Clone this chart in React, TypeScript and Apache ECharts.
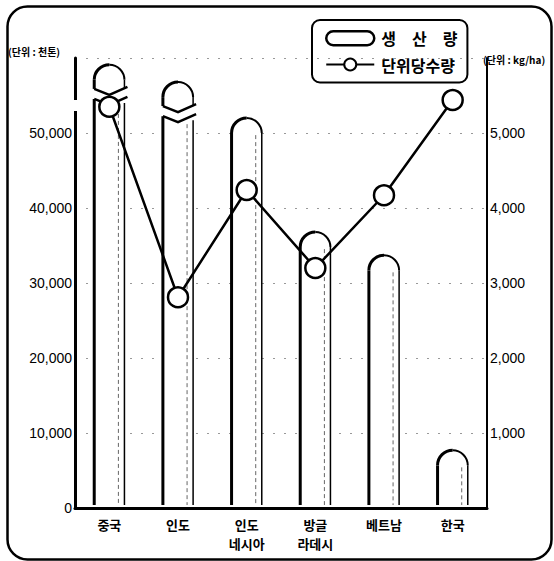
import React, { useEffect, useRef } from "react";
import * as echarts from "echarts";

const categories = ["중국", "인도", "인도\n네시아", "방글\n라데시", "베트남", "한국"];
// production (천톤) as drawn on the chart (China and India are truncated bars)
const production = [59100, 56800, 52000, 36800, 33700, 7700];
const truncated = [true, true, false, false, false, false];
// yield per area (kg/ha)
const yieldPerHa = [5350, 2810, 4240, 3200, 4170, 5440];
const leftTicks = { min: 0, max: 60000, interval: 10000 };
const rightTicks = { min: 0, max: 6000, interval: 1000 };

const fmt = (v: number) => v.toLocaleString("en-US");

export default function App() {
  const ref = useRef<HTMLDivElement>(null);
  useEffect(() => {
    if (!ref.current) return;
    const chart = echarts.init(ref.current, undefined, { renderer: "svg" });
    const font = "'Liberation Sans', Arial, 'Noto Sans CJK KR', sans-serif";
    const krFont = "'Noto Sans CJK KR', sans-serif";

    const renderItem = (params: any, api: any) => {
      const idx = api.value(0);
      const val = api.value(1);
      const top = api.coord([idx, val]);
      const base = api.coord([idx, 0]);
      const band = api.size([1, 0])[0];
      const w = band * 0.44;
      const r = w / 2;
      const cx = top[0];
      const L = cx - r;
      const R = cx + r;
      const capY = top[1] + r;
      const bottom = base[1] - 3;
      const children: any[] = [];
      children.push({
        type: "rect",
        shape: { x: L, y: top[1], width: w, height: bottom - top[1], r: [r, r, 0, 0] },
        style: { fill: "#fff", stroke: null },
      });
      children.push({
        type: "arc",
        shape: { cx, cy: capY, r, startAngle: Math.PI, endAngle: Math.PI * 1.5 },
        style: { stroke: "#000", lineWidth: 3, fill: null },
      });
      children.push({
        type: "arc",
        shape: { cx, cy: capY, r, startAngle: Math.PI * 1.5, endAngle: Math.PI * 2 },
        style: { stroke: "#000", lineWidth: 2, fill: null },
      });
      const dashX = L + w * 0.8;
      if (truncated[idx]) {
        const gTop = capY + r * 0.6;
        const gBot = gTop + 10;
        children.push({ type: "line", shape: { x1: L, y1: capY, x2: L, y2: gTop }, style: { stroke: "#000", lineWidth: 3 } });
        children.push({ type: "line", shape: { x1: R, y1: capY, x2: R, y2: gTop }, style: { stroke: "#000", lineWidth: 1.5 } });
        children.push({
          type: "rect",
          shape: { x: L - 3, y: gTop, width: w + 6, height: gBot - gTop },
          style: { fill: "#fff" },
        });
        children.push({
          type: "polyline",
          shape: { points: [[L, gTop], [cx, gTop + 6], [R + 3, gTop - 2]] },
          style: { stroke: "#000", lineWidth: 2.5, fill: null },
        });
        children.push({
          type: "polyline",
          shape: { points: [[L, gBot], [cx, gBot + 6], [R + 3, gBot - 2]] },
          style: { stroke: "#000", lineWidth: 2.5, fill: null },
        });
        children.push({ type: "line", shape: { x1: L, y1: gBot, x2: L, y2: bottom }, style: { stroke: "#000", lineWidth: 3 } });
        children.push({ type: "line", shape: { x1: R, y1: gBot + 4, x2: R, y2: bottom }, style: { stroke: "#000", lineWidth: 1.5 } });
        children.push({
          type: "line",
          shape: { x1: dashX, y1: gBot + 8, x2: dashX, y2: bottom },
          style: { stroke: "#666", lineWidth: 1, lineDash: [4, 3] },
        });
      } else {
        children.push({ type: "line", shape: { x1: L, y1: capY, x2: L, y2: bottom }, style: { stroke: "#000", lineWidth: 3 } });
        children.push({ type: "line", shape: { x1: R, y1: capY, x2: R, y2: bottom }, style: { stroke: "#000", lineWidth: 1.5 } });
        children.push({
          type: "line",
          shape: { x1: dashX, y1: capY + 2, x2: dashX, y2: bottom },
          style: { stroke: "#666", lineWidth: 1, lineDash: [4, 3] },
        });
      }
      return { type: "group", children };
    };

    chart.setOption({
      animation: false,
      backgroundColor: "#fff",
      grid: { left: 75, right: 67, top: 58, bottom: 53 },
      legend: {
        left: 312,
        top: 20,
        orient: "vertical",
        width: 163,
        padding: [10, 10, 10, 13],
        itemGap: 10,
        itemWidth: 48,
        itemHeight: 15,
        borderColor: "#000",
        borderWidth: 2,
        borderRadius: 8,
        textStyle: { fontFamily: krFont, fontSize: 16, color: "#000", fontWeight: "bold", padding: [0, 0, 0, 2] },
        formatter: (name: string) => (name === "생산량" ? "생　산　량" : name),
        data: [
          {
            name: "생산량",
            icon: "path://M7,0 H41 A7,7 0 0 1 41,14 H7 A7,7 0 0 1 7,0 Z",
            itemStyle: { color: "#fff", borderColor: "#000", borderWidth: 2.5 },
          },
          { name: "단위당수량" },
        ],
      },
      xAxis: {
        type: "category",
        data: categories,
        boundaryGap: true,
        axisLine: { lineStyle: { color: "#000", width: 3 } },
        axisTick: { show: false },
        axisLabel: {
          color: "#000",
          fontFamily: krFont,
          fontSize: 13,
          fontWeight: "bold",
          lineHeight: 19,
          margin: 7,
        },
        splitLine: { show: false },
      },
      yAxis: [
        {
          type: "value",
          min: leftTicks.min,
          max: leftTicks.max,
          interval: leftTicks.interval,
          axisLine: { show: true, lineStyle: { color: "#000", width: 3 } },
          axisTick: { show: false },
          axisLabel: {
            color: "#000",
            fontFamily: font,
            fontSize: 14,
            margin: 3,
            formatter: (v: number) => (v >= leftTicks.max ? "" : fmt(v)),
          },
          splitLine: { show: true, lineStyle: { color: "#999", width: 1, type: [2, 9] } },
        },
        {
          type: "value",
          min: rightTicks.min,
          max: rightTicks.max,
          interval: rightTicks.interval,
          position: "right",
          axisLine: { show: true, lineStyle: { color: "#000", width: 2 } },
          axisTick: { show: false },
          axisLabel: {
            color: "#000",
            fontFamily: font,
            fontSize: 14,
            margin: 3,
            formatter: (v: number) => (v === 0 || v >= rightTicks.max ? "" : fmt(v)),
          },
          splitLine: { show: false },
        },
      ],
      series: [
        {
          name: "생산량",
          type: "custom",
          renderItem,
          yAxisIndex: 0,
          encode: { x: 0, y: 1 },
          data: production.map((v, i) => [i, v]),
          z: 2,
          itemStyle: { color: "#fff", borderColor: "#000" },
        },
        {
          name: "단위당수량",
          type: "line",
          yAxisIndex: 1,
          data: yieldPerHa,
          symbol: "circle",
          symbolSize: 20,
          z: 3,
          lineStyle: { color: "#000", width: 2.5 },
          itemStyle: { color: "#fff", borderColor: "#000", borderWidth: 2.5 },
        },
      ],
      graphic: [
        {
          type: "rect",
          left: 5,
          top: 4,
          shape: { x: 0, y: 0, width: 544, height: 553, r: 20 },
          style: { fill: null, stroke: "#000", lineWidth: 2.5 },
          z: 10,
          silent: true,
        },
        {
          type: "rect",
          shape: { x: 71, y: 100, width: 8, height: 11 },
          style: { fill: "#fff" },
          z: 5,
        },
        {
          type: "text",
          left: 8,
          top: 46,
          style: { text: "(단위 : 천톤)", font: `bold 10px ${krFont}`, fill: "#000" },
        },
        {
          type: "text",
          left: 483,
          top: 54,
          style: { text: "(단위 : kg/ha)", font: `bold 10px ${krFont}`, fill: "#000" },
        },
      ],
    });
    return () => chart.dispose();
  }, []);
  return <div ref={ref} style={{ position: "fixed", left: 0, top: 0, width: 554, height: 561 }} />;
}
